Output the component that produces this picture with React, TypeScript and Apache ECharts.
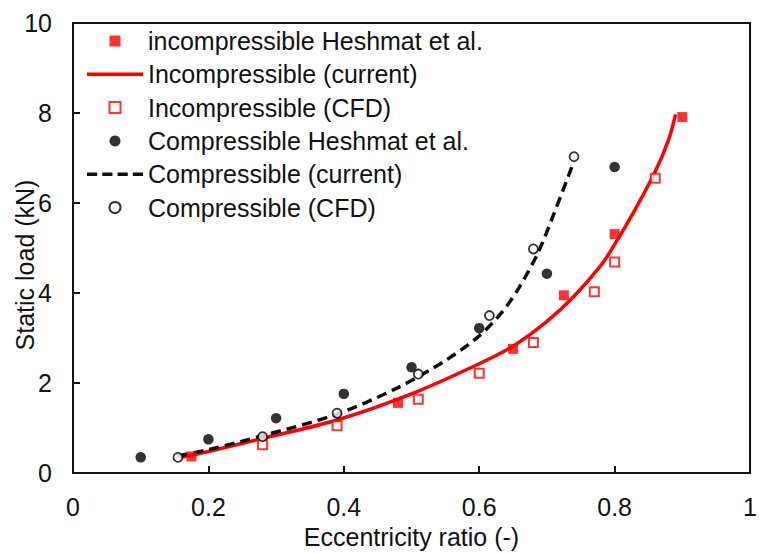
import React, { useEffect, useRef } from "react";
import * as echarts from "echarts";

// Static load (kN) against eccentricity ratio
const incHeshmat: number[][] = [
  [0.175, 0.37], [0.48, 1.56], [0.65, 2.76], [0.725, 3.95], [0.8, 5.31], [0.9, 7.91],
];
const incCurrent: number[][] = [
  [0.16, 0.35], [0.2, 0.48], [0.28, 0.77], [0.39, 1.18], [0.5, 1.76], [0.6, 2.43],
  [0.65, 2.82], [0.7, 3.37], [0.74, 3.93], [0.78, 4.62], [0.8, 5.08], [0.83, 5.85],
  [0.86, 6.7], [0.88, 7.42], [0.89, 7.97],
];
const incCFD: number[][] = [
  [0.28, 0.63], [0.39, 1.05], [0.51, 1.64], [0.6, 2.22], [0.68, 2.9], [0.77, 4.03],
  [0.8, 4.69], [0.86, 6.55],
];
const compHeshmat: number[][] = [
  [0.1, 0.35], [0.2, 0.75], [0.3, 1.22], [0.4, 1.76], [0.5, 2.35], [0.6, 3.22],
  [0.7, 4.43], [0.8, 6.8],
];
const compCurrent: number[][] = [
  [0.155, 0.38], [0.2, 0.52], [0.28, 0.83], [0.39, 1.31], [0.48, 1.9], [0.55, 2.5],
  [0.6, 3.05], [0.635, 3.6], [0.66, 4.15], [0.687, 4.9], [0.71, 5.75], [0.738, 6.85],
];
const compCFD: number[][] = [
  [0.155, 0.35], [0.28, 0.81], [0.39, 1.33], [0.51, 2.2], [0.615, 3.5], [0.68, 4.98],
  [0.74, 7.03],
];

const legendNames = [
  "incompressible Heshmat et al.",
  "Incompressible (current)",
  "Incompressible (CFD)",
  "Compressible Heshmat et al.",
  "Compressible (current)",
  "Compressible (CFD)",
];

const RED = "#ff0000";
const INK = "#111111";
const FONT = "'Liberation Sans', Arial, sans-serif";

// Legend glyphs: a square marker, a solid stroke and a four-dash stroke
const ICON_SQUARE = "path://M0,0h1v1h-1z";
const ICON_SOLID = "path://M0,0h56v3.5h-56z";
const ICON_DASHED =
  "path://M0,0h10v3.5h-10zM15,0h10v3.5h-10zM30,0h10v3.5h-10zM45,0h10v3.5h-10z";

export default function App() {
  const ref = useRef<HTMLDivElement>(null);

  useEffect(() => {
    if (!ref.current) return;
    const chart = echarts.init(ref.current, undefined, { renderer: "svg" });
    const axisCommon = {
      axisLine: { show: true, lineStyle: { color: INK, width: 2 } },
      axisTick: { show: true, inside: true, length: 7, lineStyle: { color: INK, width: 2 } },
      splitLine: { show: false },
      axisLabel: { color: INK, fontSize: 25, fontFamily: FONT, margin: 21 },
    };
    chart.setOption({
      animation: false,
      backgroundColor: "#ffffff",
      grid: {
        left: 73, right: 3, top: 23, bottom: 76,
        show: true, borderColor: INK, borderWidth: 2, backgroundColor: "transparent",
      },
      xAxis: {
        type: "value", min: 0, max: 1, interval: 0.2,
        name: "Eccentricity ratio (-)", nameLocation: "middle", nameGap: 46,
        nameTextStyle: { color: INK, fontSize: 25, fontFamily: FONT },
        ...axisCommon,
      },
      yAxis: {
        type: "value", min: 0, max: 10, interval: 2,
        ...axisCommon,
      },
      graphic: [
        {
          type: "text", x: 25, y: 265, rotation: Math.PI / 2,
          style: {
            text: "Static load (kN)", fill: INK, font: `25px ${FONT}`,
            align: "center", verticalAlign: "middle",
          },
        },
      ],
      legend: {
        data: [
          { name: legendNames[0], icon: ICON_SQUARE },
          { name: legendNames[1], icon: ICON_SOLID },
          { name: legendNames[2], icon: ICON_SQUARE },
          { name: legendNames[3], icon: "circle" },
          { name: legendNames[4], icon: ICON_DASHED },
          { name: legendNames[5], icon: "circle" },
        ],
        orient: "vertical",
        left: 87, top: 28.5, padding: 0,
        itemWidth: 56, itemHeight: 11, itemGap: 8.3,
        symbolKeepAspect: true,
        textStyle: { color: INK, fontSize: 25, fontFamily: FONT },
        selectedMode: false,
      },
      series: [
        {
          name: legendNames[1], type: "line", data: incCurrent, smooth: 0.3,
          symbol: "none", lineStyle: { color: RED, width: 3.5 }, itemStyle: { color: RED }, z: 2,
        },
        {
          name: legendNames[4], type: "line", data: compCurrent, smooth: 0.3,
          symbol: "none", lineStyle: { color: INK, width: 3.5, type: [10, 6] },
          itemStyle: { color: INK }, z: 2,
        },
        {
          name: legendNames[0], type: "scatter", data: incHeshmat, symbol: "rect", symbolSize: 10,
          itemStyle: { color: RED }, z: 3,
        },
        {
          name: legendNames[2], type: "scatter", data: incCFD, symbol: "rect", symbolSize: 9,
          itemStyle: { color: "#ffffff", borderColor: RED, borderWidth: 2 }, z: 3,
        },
        {
          name: legendNames[3], type: "scatter", data: compHeshmat, symbol: "circle", symbolSize: 10.5,
          itemStyle: { color: "#000000" }, z: 3,
        },
        {
          name: legendNames[5], type: "scatter", data: compCFD, symbol: "circle", symbolSize: 9,
          itemStyle: { color: "#ffffff", borderColor: "#000000", borderWidth: 1.8 }, z: 3,
        },
      ],
    });
    return () => chart.dispose();
  }, []);

  return (
    <div
      ref={ref}
      style={{ position: "fixed", left: 0, top: 0, width: 760, height: 554, background: "#fff" }}
    />
  );
}
